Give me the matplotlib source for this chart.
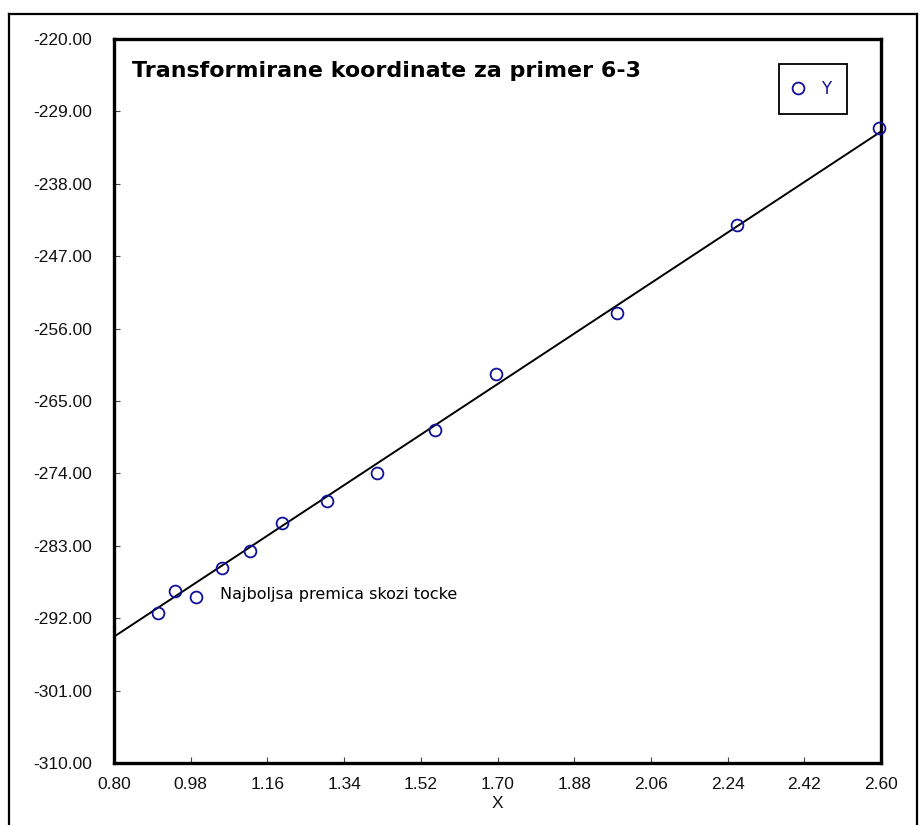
import matplotlib
matplotlib.use("Agg")
import matplotlib.pyplot as plt
from matplotlib.lines import Line2D
import numpy as np

# Transformed coordinates (X, Y)
x_vals = [0.903, 0.944, 0.993, 1.053, 1.118, 1.194, 1.301, 1.418,
          1.553, 1.696, 1.981, 2.261, 2.595]
y_vals = [-291.30, -288.62, -289.31, -285.80, -283.65, -280.13, -277.40,
          -273.99, -268.61, -261.65, -254.03, -243.12, -231.03]

# Best-fit straight line through the points
fit_x = [0.80, 2.60]
fit_y = [-294.3, -231.5]

x_ticks = [0.80, 0.98, 1.16, 1.34, 1.52, 1.70, 1.88, 2.06, 2.24, 2.42, 2.60]
y_ticks = [-310.0, -301.0, -292.0, -283.0, -274.0, -265.0, -256.0,
           -247.0, -238.0, -229.0, -220.0]

title_text = "Transformirane koordinate za primer 6-3"
fit_label = "Najboljsa premica skozi tocke"
series_name = "Y"
x_name = "X"

W, H = 924, 825
fig = plt.figure(figsize=(W / 100, H / 100), dpi=100)
fig.patch.set_facecolor("white")

# plot area in pixels: left 114, right 881, top 39, bottom 763
L, R, T, B = 114, 881, 39, 763
ax = fig.add_axes([L / W, 1 - B / H, (R - L) / W, (B - T) / H])

navy = "#10109a"
ax.plot(fit_x, fit_y, color="black", lw=1.4, zorder=2)
ax.plot(x_vals, y_vals, linestyle="none", marker="o", markersize=8.5,
        markerfacecolor="none", markeredgecolor=navy, markeredgewidth=1.3,
        label=series_name, zorder=3, clip_on=False)

ax.set_xlim(fit_x[0], fit_x[-1])
ax.set_ylim(y_ticks[0], y_ticks[-1])
ax.set_xticks(x_ticks)
ax.set_yticks(y_ticks)
ax.set_xticklabels([f"{v:.2f}" for v in x_ticks])
ax.set_yticklabels([f"{v:.2f}" for v in y_ticks])

tick_family = ["Liberation Sans", "DejaVu Sans"]
for lab in ax.get_xticklabels() + ax.get_yticklabels():
    lab.set_fontfamily(tick_family)
    lab.set_fontsize(12.5)
    lab.set_color("#111111")

ax.tick_params(axis="both", direction="in", length=4.5, width=0.8, color="#444444")
ax.tick_params(axis="y", pad=16)
ax.tick_params(axis="x", pad=10)

for s in ax.spines.values():
    s.set_linewidth(2.4)
    s.set_color("black")

ax.set_xlabel(x_name, fontfamily=tick_family, fontsize=12.5, labelpad=3,
              color="#111111")

ax.text(0.0235, 0.9475, title_text, transform=ax.transAxes,
        fontfamily="DejaVu Sans", fontweight="bold", fontsize=15.9,
        va="baseline", ha="left", color="black")

ax.text(1.049, -289.1, fit_label, fontfamily="DejaVu Sans", fontsize=11.5,
        va="center", ha="left", color="black")

leg = ax.legend(loc="upper left", bbox_to_anchor=(779 / W, 1 - 64 / H),
                bbox_transform=fig.transFigure, frameon=True, fancybox=False,
                edgecolor="black", borderpad=0.95, handlelength=0.4,
                handletextpad=1.2, borderaxespad=0, labelcolor=navy,
                prop=dict(family="DejaVu Sans", size=12))
leg.get_frame().set_linewidth(1.3)
leg.get_frame().set_alpha(1)

# thin outer frame around the chart (top, left, right)
frame_kw = dict(color="black", lw=1.6, transform=fig.transFigure)
fig.add_artist(Line2D([9 / W, 917 / W], [1 - 14 / H, 1 - 14 / H], **frame_kw))
fig.add_artist(Line2D([9 / W, 9 / W], [0, 1 - 14 / H], **frame_kw))
fig.add_artist(Line2D([917 / W, 917 / W], [0, 1 - 14 / H], **frame_kw))

fig.savefig("out.png", dpi=100)
